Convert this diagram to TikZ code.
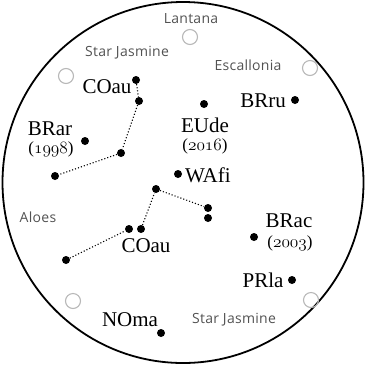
\documentclass[tikz,border=0pt]{standalone}
\usepackage{fontspec}
\setmainfont{Liberation Serif}
\newfontfamily\labelsans{Open Sans}[LetterSpace=2]
\begin{document}
\begin{tikzpicture}[x=1pt,y=-1pt,
  star/.style={circle,fill=black,inner sep=0pt,minimum size=8pt},
  empty/.style={circle,draw=black!28,line width=1.1pt,inner sep=0pt,minimum size=15pt},
  plant/.style={font=\labelsans\fontsize{14}{15}\selectfont,text=black!68,inner sep=0pt},
  starname/.style={font=\fontsize{21}{22}\selectfont,inner sep=0pt},
  yearlbl/.style={font=\fontsize{17}{18}\selectfont,inner sep=0pt},
  link/.style={dotted,line width=1.1pt}]
\useasboundingbox (0,0) rectangle (366,365);
\draw[line width=1.8pt] (183,182.5) coordinate (c) circle (180.5);
% plants
\node[plant] (lan) at (191,19) {Lantana};
\node[empty] (e1) at (190,37) {};
\node[plant] (sj1) at (127,53) {Star Jasmine};
\node[empty] (e2) at (66,76) {};
\node[plant] (esc) at (248,65) {Escallonia};
\node[empty] (e3) at (310,68) {};
\node[plant] (alo) at (38,217) {Aloes};
\node[empty] (e4) at (73,301) {};
\node[empty] (e5) at (311,300) {};
\node[plant] (sj2) at (234,320) {Star Jasmine};
% stars
\node[star] (s1) at (136,80) {};
\node[star] (s2) at (139,101) {};
\node[star] (s3) at (121,153) {};
\node[star] (s4) at (55,176) {};
\node[star] (brar) at (85,141) {};
\node[star] (eude) at (204,104) {};
\node[star] (brru) at (295,100) {};
\node[star] (wafi) at (178,174) {};
\node[star] (s5) at (156,189) {};
\node[star] (s6) at (208,208) {};
\node[star] (s7) at (208,218) {};
\node[star] (s8) at (129,229) {};
\node[star] (s9) at (141,229) {};
\node[star] (s10) at (66,260) {};
\node[star] (brac) at (254,237) {};
\node[star] (prla) at (292,280) {};
\node[star] (noma) at (161,333) {};
% links
\draw[link] (s1) -- (s2) -- (s3) -- (s4);
\draw[link] (s10) -- (s8);
\draw[link] (s9) -- (s5) -- (s6);
% labels
\node[starname] (t1) at (107,87) {COau};
\node[starname] (t2) at (50,129) {BRar};
\node[yearlbl] (y2) at (51,149) {(\(\mathnormal{1998}\))};
\node[starname] (t3) at (205,125) {EUde};
\node[yearlbl] (y3) at (205,146) {(\(\mathnormal{2016}\))};
\node[starname] (t4) at (263,101) {BRru};
\node[starname,anchor=west] (t5) at (185,175) {WAfi};
\node[starname] (t6) at (146,246) {COau};
\node[starname] (t7) at (289,221) {BRac};
\node[yearlbl] (y7) at (290,243) {(\(\mathnormal{2003}\))};
\node[starname] (t8) at (263,280) {PRla};
\node[starname] (t9) at (130,320) {NOma};
\end{tikzpicture}
\end{document}
